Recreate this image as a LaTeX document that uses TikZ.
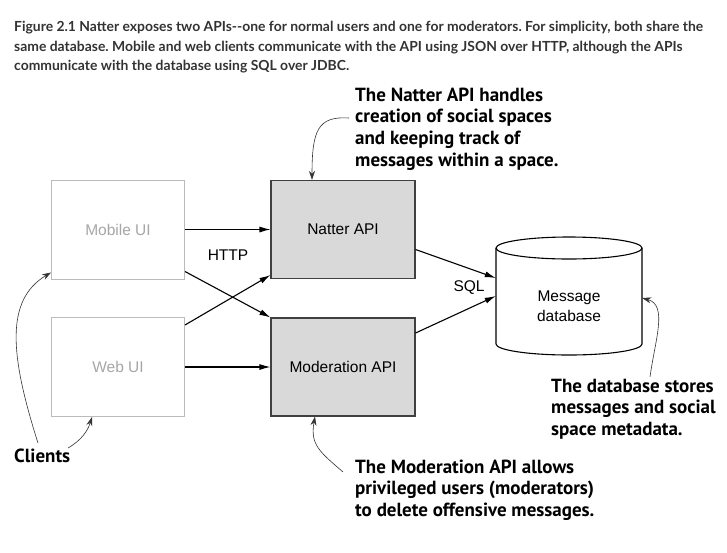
\documentclass[tikz,border=0pt]{standalone}
\usepackage{fontspec}
\setmainfont{Liberation Sans}
\newfontfamily\capfont{Lato}
\newfontfamily\notefont{PT Sans}
\usetikzlibrary{arrows.meta}
\definecolor{capcol}{HTML}{333333}
\definecolor{clientline}{HTML}{BBBBBB}
\definecolor{clienttext}{HTML}{A6A6A6}
\definecolor{apifill}{HTML}{D9D9D9}
\definecolor{apiline}{HTML}{404040}
\frenchspacing
\tikzset{
  clientbox/.style={draw=clientline, line width=1pt, minimum width=133pt, minimum height=99pt,
    text=clienttext, font=\fontsize{15.5}{18}\selectfont},
  apibox/.style={draw=apiline, fill=apifill, line width=1.1pt, minimum width=144pt, minimum height=98pt,
    font=\fontsize{15.5}{18}\selectfont},
  flow/.style={-{Latex[length=11pt,width=6pt]}, line width=1.1pt},
  pointer/.style={-{Stealth[length=9pt,width=6pt]}, line width=0.6pt, draw=black!80},
  note/.style={font=\notefont\bfseries\fontsize{19}{21.6}\selectfont, align=left, inner sep=0pt, anchor=west},
  lbl/.style={font=\fontsize{15.5}{18}\selectfont, inner sep=0pt}
}
\begin{document}
\begin{tikzpicture}[x=1pt,y=-1pt]
\useasboundingbox (0,0) rectangle (727,552);
\node[anchor=north west, inner sep=0pt, align=left, text=capcol,
  font=\capfont\bfseries\fontsize{13.9}{19.6}\selectfont] (cap) at (14,21)
  {Figure 2.1 Natter exposes two APIs-{}-one for normal users and one for moderators. For simplicity, both share the\\
   same database. Mobile and web clients communicate with the API using JSON over HTTP, although the APIs\\
   communicate with the database using SQL over JDBC.};

\node[clientbox] (mob) at (118,229.5) {Mobile UI};
\node[clientbox] (web) at (118,367) {Web UI};
\node[apibox] (nat) at (343,229.5) {Natter API};
\node[apibox] (mod) at (343,367) {Moderation API};

% database
\node[minimum width=146pt, minimum height=118pt, inner sep=0pt] (db) at (569,296) {};
\draw[line width=1.1pt] (496,248) -- (496,344) arc[start angle=180, end angle=0, x radius=73, y radius=11] -- (642,248);
\draw[line width=1.1pt] (569,248) ellipse [x radius=73, y radius=11];
\node[align=center, inner sep=0pt, font=\fontsize{15.5}{19.5}\selectfont] (dbtext) at ([yshift=-10pt]db.center) {Message\\database};

\draw[flow] (mob) -- (nat);
\draw[flow] (web) -- (mod);
\draw[flow] ([yshift=8pt]mob.south east) -- (mod.north west);
\draw[flow] ([yshift=-8pt]web.north east) -- ([yshift=4pt]nat.south west);
\draw[flow] ([yshift=-20pt]nat.east) -- ([yshift=18pt]db.west);
\draw[flow] ([yshift=34pt]mod.east) -- (db.west);

\node[lbl] (http) at (228,255) {HTTP};
\node[lbl] (sql) at (469,288) {SQL};

% notes
\node[note] (natnote) at (355,129) {The Natter API handles\\creation of social spaces\\and keeping track of\\messages within a space.};
\node[note] (modnote) at (355,490) {The Moderation API allows\\privileged users (moderators)\\to delete offensive messages.};
\node[note] (dbnote) at (551,409) {The database stores\\messages and social\\space metadata.};
\node[note] (clients) at (14,456) {Clients};

\coordinate (na) at (349,118);
\coordinate (ma) at (343,472);
\coordinate (da) at (650,377);
\coordinate (ca) at (38,443);
\coordinate (cb) at (68,448);

\draw[pointer] (na) .. controls (318,116) and (312,130) .. ([xshift=-31pt]nat.north);
\draw[pointer] (ma) .. controls (320,452) and (310,445) .. ([xshift=-28pt]mod.south);
\draw[pointer] (da) .. controls (655,340) and (668,305) .. ([yshift=-2pt]db.east);
\draw[pointer] (ca) .. controls (10,355) and (5,300) .. ([yshift=7pt]mob.south west);
\draw[pointer] (cb) .. controls (82,440) and (88,430) .. ([xshift=-26pt]web.south);
\end{tikzpicture}
\end{document}
